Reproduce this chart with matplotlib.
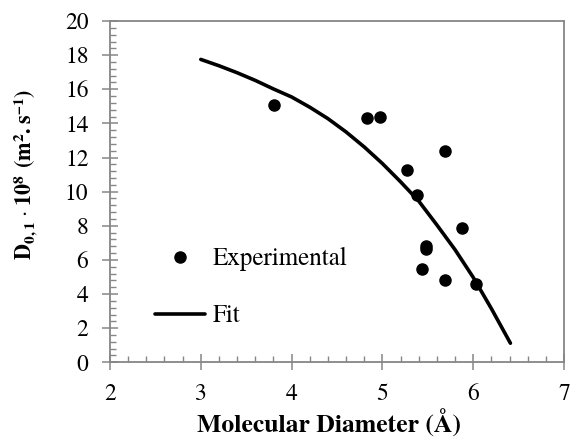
import matplotlib
matplotlib.use("Agg")
import matplotlib.pyplot as plt
from matplotlib.ticker import MultipleLocator

plt.rcParams['font.family'] = ['TeX Gyre Termes', 'STIXGeneral', 'DejaVu Serif']
plt.rcParams['mathtext.fontset'] = 'custom'
plt.rcParams['mathtext.rm'] = 'TeX Gyre Termes'
plt.rcParams['mathtext.bf'] = 'TeX Gyre Termes:bold'

# experimental points
diam_exp = [3.81, 4.83, 4.97, 5.27, 5.38, 5.69, 5.48, 5.48, 5.44, 5.69, 5.88, 6.03]
d01_exp = [15.07, 14.29, 14.35, 11.27, 9.80, 12.38, 6.81, 6.62, 5.47, 4.80, 7.85, 4.59]

# fit curve, sampled along the drawn line
diam_fit = [3.0, 3.2, 3.4, 3.6, 3.8, 4.0, 4.2, 4.4, 4.6, 4.8, 5.0,
            5.2, 5.4, 5.6, 5.8, 6.0, 6.2, 6.41]
d01_fit = [17.75, 17.38, 16.97, 16.52, 16.02, 15.55, 14.95, 14.28, 13.50, 12.62, 11.65,
           10.58, 9.45, 8.05, 6.60, 4.98, 3.15, 1.12]

grey = '#868686'

fig = plt.figure(figsize=(5.72, 4.38), dpi=100)
ax = fig.add_axes([0.1923, 0.1728, 0.7937, 0.7792])

ax.plot(diam_exp, d01_exp, 'o', color='black', markersize=8, label='Experimental')
ax.plot(diam_fit, d01_fit, '-', color='black', linewidth=2.6, label='Fit',
        solid_capstyle='round', solid_joinstyle='round')

ax.set_xlim(2, 7)
ax.set_ylim(0, 20)
ax.xaxis.set_major_locator(MultipleLocator(1))
ax.xaxis.set_minor_locator(MultipleLocator(0.2))
ax.yaxis.set_major_locator(MultipleLocator(2))
ax.yaxis.set_minor_locator(MultipleLocator(0.4))

for s in ax.spines.values():
    s.set_color(grey)
    s.set_linewidth(1.3)

ax.tick_params(which='major', direction='inout', length=11, width=1.1, color=grey,
               labelsize=17, labelcolor='black')
ax.tick_params(axis='x', which='major', pad=10)
ax.tick_params(axis='y', which='major', pad=10)
ax.tick_params(which='minor', direction='in', length=4.5, width=1.0, color=grey)

ax.set_xlabel('Molecular Diameter (Å)', fontsize=18.5, fontweight='bold')
ax.xaxis.set_label_coords(0.482, -0.138)
ax.set_ylabel(r'$\mathbf{D_{0,1}\cdot10^{8}\ (m^{2}.s^{-1})}$', fontsize=16)
ax.yaxis.set_label_coords(-0.157, 0.55)

ax.legend(loc='upper left', bbox_to_anchor=(0.099, 0.337), frameon=False, fontsize=18,
          handlelength=2.0, handletextpad=0.32, labelspacing=1.32, borderpad=0,
          borderaxespad=0)

fig.savefig('out.png', dpi=100)
